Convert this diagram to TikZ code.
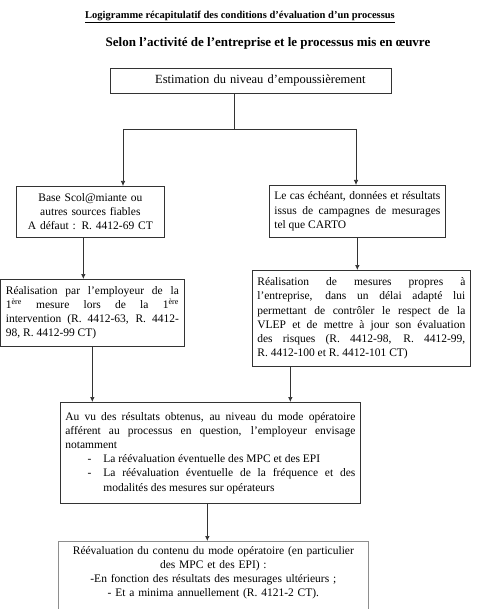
\documentclass[tikz,border=0pt]{standalone}
\usepackage{fontspec}
\setmainfont{Liberation Serif}
\usetikzlibrary{arrows.meta,positioning,calc}
\definecolor{boxline}{HTML}{333333}
\definecolor{lastline}{HTML}{8E8E8E}
\tikzset{
  stepbox/.style={draw=boxline, line width=0.7pt, anchor=north west, inner xsep=5pt, inner ysep=3pt,
               font=\fontsize{11.5}{14.2}\selectfont},
  flow/.style={-{Latex[length=5pt,width=4.5pt]}, line width=0.7pt, draw=boxline},
  link/.style={line width=0.7pt, draw=boxline},
  titre/.style={font=\fontsize{10.5}{12}\selectfont\bfseries, inner sep=0pt},
  soustitre/.style={font=\fontsize{13}{15}\selectfont\bfseries, inner sep=0pt},
}
\newcommand{\tiret}[1]{\par\noindent\hangindent=38pt\hangafter=0\llap{-\hspace{12pt}}#1\par}

\begin{document}
\begin{tikzpicture}[x=1pt, y=-1pt]
  \useasboundingbox (0,0) rectangle (477,609);
  \clip (0,0) rectangle (477,609);
  \node[titre] (titre) at (240,17) {\underline{Logigramme récapitulatif des conditions d’évaluation d’un processus}};
  \node[soustitre] (soustitre) at (268,43) {Selon l’activité de l’entreprise et le processus mis en œuvre};
  \node[stepbox, font=\fontsize{12.5}{15}\selectfont, text width=271pt, minimum height=25pt, align=center] (estim) at (110,68)
    {\hspace*{19pt}Estimation du niveau d’empoussièrement};
  \node[stepbox, text width=138pt, minimum height=51pt, align=center] (scol) at (16,186)
    {Base Scol@miante ou\\autres sources fiables\\A défaut : R. 4412-69 CT};
  \node[stepbox, text width=166pt, minimum height=52pt, align=justify] (carto) at (269,185)
    {Le cas échéant, données et résultats\linebreak issus de campagnes de mesurages\linebreak tel que CARTO};
  \node[stepbox, text width=173pt, minimum height=67pt, align=justify] (premiere) at (0.5,279)
    {Réalisation par l’employeur de la\linebreak 1\textsuperscript{ère} mesure lors de la 1\textsuperscript{ère}\linebreak
     intervention (R. 4412-63, R. 4412-\linebreak 98, R. 4412-99 CT)};
  \node[stepbox, text width=208pt, minimum height=96pt, align=justify] (propres) at (252,270)
    {Réalisation de mesures propres à\linebreak l’entreprise, dans un délai adapté lui\linebreak
     permettant de contrôler le respect de la\linebreak VLEP et de mettre à jour son évaluation\linebreak
     des risques (R. 4412-98, R. 4412-99,\linebreak R. 4412-100 et R. 4412-101 CT)};
  \node[stepbox, text width=290pt, minimum height=101pt, align=justify] (envisage) at (60,402)
    {Au vu des résultats obtenus, au niveau du mode opératoire\linebreak afférent au processus en question, l’employeur envisage\linebreak notamment
     \tiret{La réévaluation éventuelle des MPC et des EPI}
     \tiret{La réévaluation éventuelle de la fréquence et des\linebreak modalités des mesures sur opérateurs}};
  \node[stepbox, draw=lastline, text width=300pt, minimum height=79pt, align=center] (reeval) at (58,541)
    {Réévaluation du contenu du mode opératoire (en particulier\\des MPC et des EPI) :\\-En fonction des résultats des mesurages ultérieurs ;\\- Et a minima annuellement (R. 4121-2 CT).\\ \strut};
  \coordinate (fourche) at (234,129);
  \coordinate (fourcheG) at (123,129);
  \coordinate (fourcheD) at (356,129);
  \draw[link] (estim.south -| fourche) -- (fourche);
  \draw[link] (fourcheG) -- (fourcheD);
  \draw[flow] (fourcheG) -- (fourcheG |- scol.north);
  \draw[flow] (fourcheD) -- (fourcheD |- carto.north);
  \draw[flow] ([xshift=-7pt]scol.south) -- ([xshift=-7pt]scol.south |- premiere.north);
  \draw[flow] (carto.south) -- (carto.south |- propres.north);
  \draw[flow] (premiere.south) -- (premiere.south |- envisage.north);
  \draw[flow] ([xshift=-71pt]propres.south) -- ([xshift=-71pt]propres.south |- envisage.north);
  \draw[flow] ([xshift=-3pt]envisage.south) -- ([xshift=-3pt]envisage.south |- reeval.north);
\end{tikzpicture}
\end{document}
